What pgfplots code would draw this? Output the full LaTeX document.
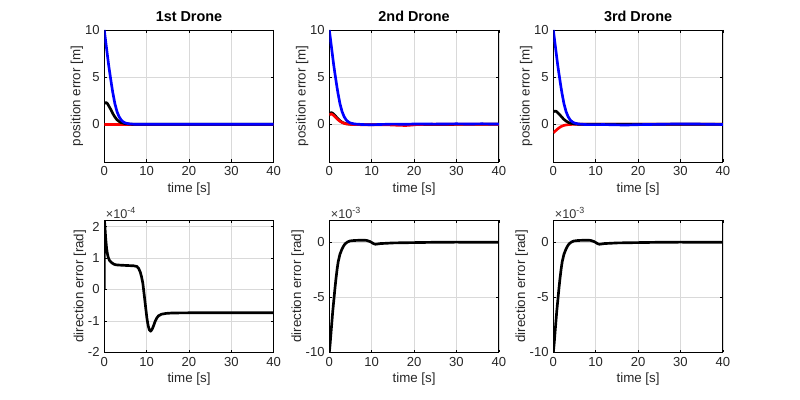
\documentclass[border=0pt]{standalone}
\usepackage{pgfplots}
\pgfplotsset{compat=1.18}
\usepackage{fontspec}
\setmainfont{Liberation Sans}

% ---------- data ----------
% top row: position error [m]
\def\blueA{(0,10) (0.25,9.1) (0.5,8.2) (0.75,7.3) (1,6.4) (1.25,5.6) (1.5,4.85) (1.75,4.1) (2,3.4) (2.5,2.2) (3,1.35) (3.5,0.8) (4,0.45) (4.5,0.25) (5,0.13) (6,0.04) (7,0.01) (8,0) (40,0)}
\def\blackA{(0,2.2) (0.25,2.28) (0.5,2.3) (0.75,2.2) (1,2.0) (1.5,1.6) (2,1.15) (2.5,0.78) (3,0.48) (3.5,0.3) (4,0.17) (5,0.06) (6,0.02) (7,0) (40,0)}
\def\redA{(0,0) (40,0)}

\def\blueB{(0,10) (0.25,9.1) (0.5,8.2) (0.75,7.3) (1,6.4) (1.25,5.6) (1.5,4.85) (1.75,4.1) (2,3.4) (2.5,2.2) (3,1.35) (3.5,0.8) (4,0.45) (4.5,0.25) (5,0.13) (6,0.03) (8,-0.03) (10,-0.05) (12,-0.02) (15,0.02) (18,0.0) (20,0.03) (25,0.02) (30,0.05) (33,0.03) (36,0.05) (40,0.02)}
\def\blackB{(0,1.12) (0.25,1.2) (0.5,1.23) (0.75,1.18) (1,1.08) (1.5,0.85) (2,0.6) (2.5,0.38) (3,0.22) (3.5,0.12) (4,0.06) (5,0.01) (6,-0.02) (8,-0.04) (10,-0.04) (40,0)}
\def\redB{(0,1.02) (0.5,1.1) (1,0.95) (1.5,0.72) (2,0.5) (2.5,0.32) (3,0.19) (3.5,0.1) (4,0.04) (5,-0.01) (7,-0.04) (10,-0.05) (14,-0.06) (16,-0.1) (18,-0.13) (19.5,-0.08) (21,-0.02) (25,0) (40,0)}

\def\blueC{(0,10) (0.25,9.1) (0.5,8.2) (0.75,7.3) (1,6.4) (1.25,5.6) (1.5,4.85) (1.75,4.1) (2,3.4) (2.5,2.2) (3,1.35) (3.5,0.8) (4,0.45) (4.5,0.25) (5,0.13) (6,0.03) (8,-0.04) (12,-0.03) (17,-0.08) (20,-0.04) (25,0) (30,0.04) (35,0.02) (40,-0.02)}
\def\blackC{(0,1.33) (0.25,1.38) (0.5,1.4) (0.75,1.35) (1,1.25) (1.5,1.02) (2,0.76) (2.5,0.52) (3,0.34) (3.5,0.21) (4,0.12) (5,0.04) (6,0) (40,0)}
\def\redC{(0,-0.9) (0.5,-0.7) (1,-0.5) (1.5,-0.33) (2,-0.2) (2.5,-0.12) (3,-0.07) (3.5,-0.04) (4,-0.02) (5,0) (40,0)}

% bottom row: direction error [rad]
\def\dirA{(0,0) (0.01,2.4) (0.1,2.1) (0.2,1.9) (0.35,1.6) (0.55,1.3) (0.75,1.13) (0.95,1.01) (1.25,0.92) (1.75,0.85) (2.3,0.8) (2.9,0.78) (4,0.77) (5.5,0.76) (7,0.75) (7.7,0.73) (8.1,0.67) (8.5,0.55) (8.8,0.4) (9.1,0.2) (9.45,-0.2) (9.75,-0.55) (10.05,-0.9) (10.35,-1.15) (10.65,-1.29) (10.95,-1.33) (11.25,-1.28) (11.6,-1.17) (12,-1.02) (12.4,-0.91) (12.8,-0.84) (13.5,-0.79) (14.5,-0.765) (16,-0.75) (20,-0.745) (40,-0.745)}
\def\dirB{(0,-10) (0.2,-9.2) (0.4,-8.2) (0.55,-7.5) (0.8,-6.3) (1.1,-5.1) (1.35,-4.1) (1.57,-3.3) (1.85,-2.4) (2.1,-1.75) (2.5,-1.1) (2.9,-0.7) (3.3,-0.38) (3.7,-0.15) (4.3,0.03) (4.9,0.12) (5.8,0.16) (6.9,0.18) (8,0.19) (8.8,0.17) (9.5,0.08) (10,-0.02) (10.5,-0.14) (10.9,-0.18) (11.5,-0.15) (12,-0.12) (13,-0.1) (15,-0.06) (18,-0.04) (20,-0.03) (25,0) (30,0.01) (35,0) (40,0)}

\tikzset{expo/.style={anchor=south west, inner sep=1pt, font=\fontsize{9.5}{11}\selectfont, text=black!80}}

\pgfplotsset{
  mat/.style={
    scale only axis, width=127.1pt, height=99pt,
    anchor=south west,
    xmin=0, xmax=40, xtick={0,10,20,30,40},
    grid=major,
    major grid style={draw=black!15, line width=0.4pt},
    axis line style={line width=0.5pt},
    tick style={black, line width=0.4pt},
    major tick length=2pt,
    tick align=inside,
    /pgf/number format/assume math mode=true,
    tick label style={font=\fontsize{9.8}{11}\selectfont, text=black!85},
    label style={font=\fontsize{10}{11}\selectfont, text=black!85},
    title style={font=\fontsize{10.8}{12}\selectfont\bfseries, yshift=-3pt},
    xlabel={time [s]},
    xlabel style={yshift=2pt},
    ylabel style={yshift=-5.5pt},
    every axis plot/.append style={line width=2pt, line join=round, mark=none},
    clip mode=individual,
  },
  top/.style={mat, ymin=-4, ymax=10, ytick={0,5,10}, ylabel={position error [m]}},
}

\begin{document}
\begin{tikzpicture}
\path[use as bounding box] (0,0) rectangle (600pt,300pt);

% ---- top row ----
\begin{axis}[top, at={(78.2pt,178.5pt)}, title={1st Drone}]
\addplot[red] coordinates {\redA};
\addplot[black] coordinates {\blackA};
\addplot[blue] coordinates {\blueA};
\end{axis}

\begin{axis}[top, at={(247pt,178.5pt)}, title={2nd Drone}]
\addplot[black] coordinates {\blackB};
\addplot[red] coordinates {\redB};
\addplot[blue] coordinates {\blueB};
\end{axis}

\begin{axis}[top, at={(415pt,178.5pt)}, title={3rd Drone}]
\addplot[red] coordinates {\redC};
\addplot[black] coordinates {\blackC};
\addplot[blue] coordinates {\blueC};
\end{axis}

% ---- bottom row ----
\begin{axis}[mat, at={(78.2pt,35.8pt)}, ymin=-2, ymax=2.2, ytick={-2,-1,0,1,2},
  ylabel={direction error [rad]}]
\addplot[black] coordinates {\dirA};
\node[expo] at (rel axis cs:0,1) {×10\textsuperscript{-4}};
\end{axis}

\begin{axis}[mat, at={(247pt,35.8pt)}, ymin=-10, ymax=2, ytick={-10,-5,0},
  ylabel={direction error [rad]}]
\addplot[black] coordinates {\dirB};
\node[expo] at (rel axis cs:0,1) {×10\textsuperscript{-3}};
\end{axis}

\begin{axis}[mat, at={(415pt,35.8pt)}, ymin=-10, ymax=2, ytick={-10,-5,0},
  ylabel={direction error [rad]}]
\addplot[black] coordinates {\dirB};
\node[expo] at (rel axis cs:0,1) {×10\textsuperscript{-3}};
\end{axis}
\end{tikzpicture}
\end{document}
